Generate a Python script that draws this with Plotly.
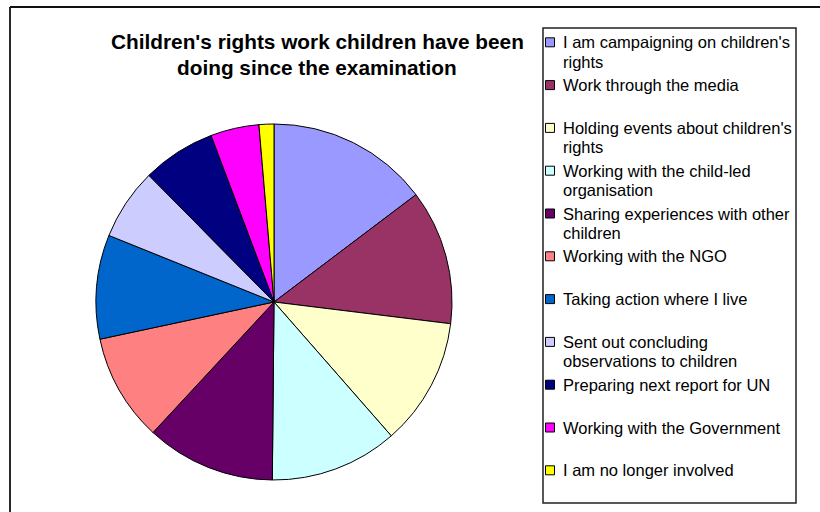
import plotly.graph_objects as go

# Share of children reporting each kind of children's rights work (percent)
categories = [
    "I am campaigning on children's<br>rights",
    "Work through the media",
    "Holding events about children's<br>rights",
    "Working with the child-led<br>organisation",
    "Sharing experiences with other<br>children",
    "Working with the NGO",
    "Taking action where I live",
    "Sent out concluding<br>observations to children",
    "Preparing next report for UN",
    "Working with the Government",
    "I am no longer involved",
]
values = [14.7, 12.25, 11.6, 11.6, 11.75, 9.75, 9.45, 6.5, 6.65, 4.4, 1.35]
colors = [
    "#9999FF", "#993366", "#FFFFCC", "#CCFFFF", "#660066", "#FF8080",
    "#0066CC", "#CCCCFF", "#000080", "#FF00FF", "#FFFF00",
]
title_lines = [
    "Children's rights work children have been",
    "doing since the examination",
]

W, H = 820, 512
FONT = "Liberation Sans, Arial, sans-serif"


def px(x):
    return x / W


def py(y):
    return 1 - y / H


fig = go.Figure()

fig.add_trace(go.Pie(
    labels=[c.replace("<br>", " ") for c in categories],
    values=values,
    sort=False,
    direction="clockwise",
    rotation=0,
    marker=dict(colors=colors, line=dict(color="#000000", width=1)),
    textinfo="none",
    hoverinfo="label+percent",
    showlegend=False,
    domain=dict(x=[px(96), px(452)], y=[py(480), py(124)]),
))

shapes = []
annotations = []

# Outer chart frame (left and top edges)
shapes.append(dict(type="line", xref="paper", yref="paper",
                   x0=px(10), x1=px(10), y0=py(7), y1=0,
                   line=dict(color="#111111", width=1.8)))
shapes.append(dict(type="line", xref="paper", yref="paper",
                   x0=px(10), x1=1, y0=py(7), y1=py(7),
                   line=dict(color="#111111", width=1.8)))

# Title, two centred bold lines
for i, line in enumerate(title_lines):
    annotations.append(dict(
        text="<b>" + line + "</b>", xref="paper", yref="paper",
        x=px(317), y=py(41 + i * 26), xanchor="center", yanchor="middle",
        showarrow=False, font=dict(family=FONT, size=20.8, color="#000000"),
    ))

# Legend box
shapes.append(dict(type="rect", xref="paper", yref="paper",
                   x0=px(543), x1=px(796), y0=py(28), y1=py(503),
                   line=dict(color="#222222", width=1.5),
                   fillcolor="rgba(0,0,0,0)"))

# Legend entries: swatch plus one annotation per text line
first_y, step, line_gap = 42.3, 42.8, 19.5
for i, (label, color) in enumerate(zip(categories, colors)):
    yc = first_y + i * step
    shapes.append(dict(type="rect", xref="paper", yref="paper",
                       x0=px(545.5), x1=px(554.5), y0=py(yc - 4.5), y1=py(yc + 4.5),
                       line=dict(color="#000000", width=1), fillcolor=color))
    for j, part in enumerate(label.split("<br>")):
        annotations.append(dict(
            text=part, xref="paper", yref="paper",
            x=px(561), y=py(yc + j * line_gap), xanchor="left", yanchor="middle",
            showarrow=False, font=dict(family=FONT, size=16.5, color="#000000"),
        ))

fig.update_layout(
    width=W, height=H,
    margin=dict(l=0, r=0, t=0, b=0),
    paper_bgcolor="#FFFFFF",
    plot_bgcolor="#FFFFFF",
    shapes=shapes,
    annotations=annotations,
)

fig.write_html("out.html")
